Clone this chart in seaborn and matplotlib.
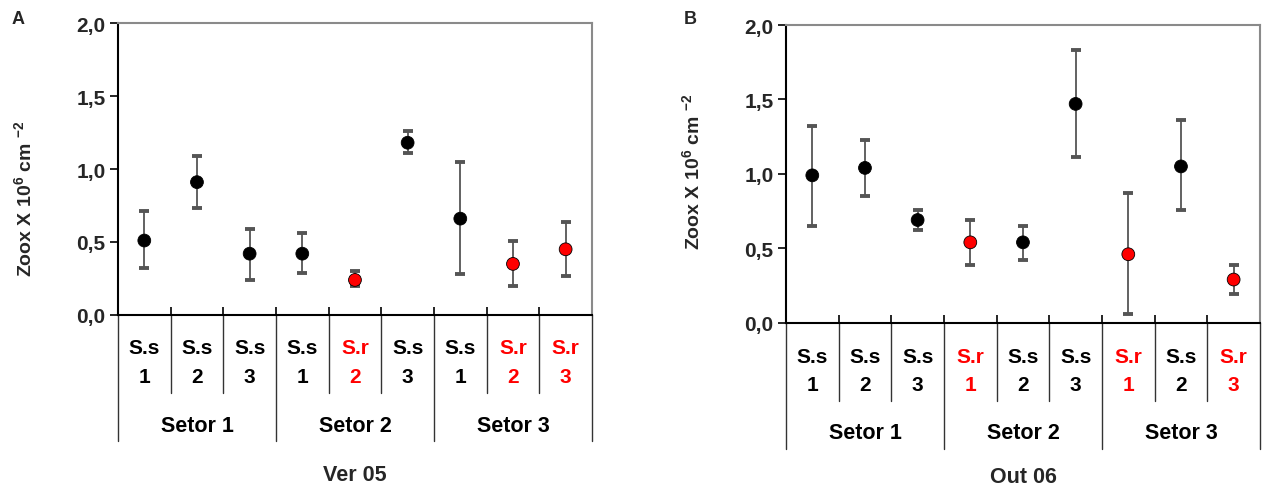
import matplotlib
matplotlib.use("Agg")
import matplotlib.pyplot as plt
import matplotlib.transforms as mtransforms
from matplotlib.ticker import FuncFormatter, FixedLocator
import seaborn as sns
import pandas as pd
import numpy as np

# ---------------- data ----------------
sectors = ["Setor 1", "Setor 2", "Setor 3"]

# Panel A (Ver 05)
a_species = ["S.s", "S.s", "S.s", "S.s", "S.r", "S.s", "S.s", "S.r", "S.r"]
a_site = ["1", "2", "3", "1", "2", "3", "1", "2", "3"]
a_mean = [0.51, 0.91, 0.42, 0.42, 0.24, 1.18, 0.66, 0.35, 0.45]
a_upper = [0.71, 1.09, 0.59, 0.56, 0.30, 1.26, 1.05, 0.51, 0.64]
a_lower = [0.32, 0.73, 0.24, 0.29, 0.20, 1.11, 0.28, 0.20, 0.27]
a_title = "Ver 05"

# Panel B (Out 06)
b_species = ["S.s", "S.s", "S.s", "S.r", "S.s", "S.s", "S.r", "S.s", "S.r"]
b_site = ["1", "2", "3", "1", "2", "3", "1", "2", "3"]
b_mean = [0.99, 1.04, 0.69, 0.54, 0.54, 1.47, 0.46, 1.05, 0.29]
b_upper = [1.32, 1.23, 0.76, 0.69, 0.65, 1.83, 0.87, 1.36, 0.39]
b_lower = [0.65, 0.85, 0.62, 0.39, 0.42, 1.11, 0.06, 0.76, 0.19]
b_title = "Out 06"

panel_letters = ["A", "B"]
yticks = [0.0, 0.5, 1.0, 1.5, 2.0]

# ---------------- style ----------------
sns.set_style("white")
plt.rcParams["font.family"] = ["Liberation Sans", "DejaVu Sans"]
plt.rcParams["font.weight"] = "bold"
plt.rcParams["mathtext.fontset"] = "custom"
plt.rcParams["mathtext.rm"] = "Liberation Sans:bold"
plt.rcParams["mathtext.bf"] = "Liberation Sans:bold"
plt.rcParams["mathtext.default"] = "bf"

RED = "#ff0000"
color_map = {"S.s": "black", "S.r": RED}

fig = plt.figure(figsize=(12.63, 4.89), dpi=100)

panels = [
    dict(rect=[0.0934, 0.3538, 0.3753, 0.5971], species=a_species, site=a_site,
         mean=a_mean, up=a_upper, lo=a_lower, title=a_title,
         y_sp=-0.110, y_site=-0.212, y_cat=-0.267, y_grp=-0.432, y_sec=-0.377, y_title=-0.545,
         letter_xy=(18 / 1263, 1 - 19 / 489), ylab_x=-0.175, ylab_y=0.40),
    dict(rect=[0.6223, 0.3380, 0.3753, 0.6088], species=b_species, site=b_site,
         mean=b_mean, up=b_upper, lo=b_lower, title=b_title,
         y_sp=-0.112, y_site=-0.209, y_cat=-0.263, y_grp=-0.424, y_sec=-0.370, y_title=-0.518,
         letter_xy=(690 / 1263, 1 - 20 / 489), ylab_x=-0.175, ylab_y=0.51),
]

for p, letter in zip(panels, panel_letters):
    ax = fig.add_axes(p["rect"])
    n = len(p["mean"])
    df = pd.DataFrame({
        "pos": np.arange(n),
        "mean": p["mean"],
        "up": p["up"],
        "lo": p["lo"],
        "species": p["species"],
    })
    yerr = np.vstack([df["mean"] - df["lo"], df["up"] - df["mean"]])
    _, caps, bars = ax.errorbar(df["pos"], df["mean"], yerr=yerr, fmt="none",
                                ecolor="#555555", elinewidth=1.3, capsize=3.6,
                                capthick=2.8, zorder=2)
    for c in caps:
        c.set_color("black")
    sns.scatterplot(data=df, x="pos", y="mean", hue="species", palette=color_map,
                    s=85, edgecolor="black", linewidth=0.6, legend=False,
                    zorder=3, ax=ax)

    ax.set_xlim(-0.5, n - 0.5)
    ax.set_ylim(0, 2.0)
    ax.set_yticks(yticks)
    ax.yaxis.set_major_formatter(FuncFormatter(lambda v, _: f"{v:.1f}".replace(".", ",")))
    ax.tick_params(axis="y", direction="out", length=6, width=1.2, labelsize=15,
                   left=True, pad=3, color="black")
    for t in ax.get_yticklabels():
        t.set_fontweight("bold")
    ax.xaxis.set_major_locator(FixedLocator(np.arange(n + 1) - 0.5))
    ax.tick_params(axis="x", direction="in", length=6, width=1.2, labelbottom=False,
                   bottom=True, color="black")
    ax.set_xlabel("")
    ax.set_ylabel("Zoox X 10$^{6}$ cm $^{-2}$", fontsize=14, fontweight="bold")
    ax.yaxis.set_label_coords(p["ylab_x"], p["ylab_y"])

    for side in ["left", "bottom"]:
        ax.spines[side].set_color("black")
        ax.spines[side].set_linewidth(1.5)
    for side in ["top", "right"]:
        ax.spines[side].set_color("#8a8a8a")
        ax.spines[side].set_linewidth(1.5)

    trans = mtransforms.blended_transform_factory(ax.transData, ax.transAxes)
    # category separators below the axis
    for i in range(n + 1):
        xb = i - 0.5
        bottom = p["y_grp"] if i % 3 == 0 else p["y_cat"]
        ax.plot([xb, xb], [0, bottom], transform=trans, color="#333333", lw=1.0,
                clip_on=False)
    # category labels
    for i, (sp, st) in enumerate(zip(p["species"], p["site"])):
        col = color_map[sp]
        ax.text(i, p["y_sp"], sp, transform=trans, ha="center", va="center",
                fontsize=15, fontweight="bold", color=col)
        ax.text(i, p["y_site"], st, transform=trans, ha="center", va="center",
                fontsize=15, fontweight="bold", color=col)
    # sector labels
    for k, sec in enumerate(sectors):
        ax.text(3 * k + 1, p["y_sec"], sec, transform=trans, ha="center", va="center",
                fontsize=15.5, fontweight="bold", color="black")
    ax.text(0.5, p["y_title"], p["title"], transform=ax.transAxes, ha="center",
            va="center", fontsize=15.5, fontweight="bold")

    fig.text(p["letter_xy"][0], p["letter_xy"][1], letter, fontsize=13,
             fontweight="bold", ha="center", va="center")

fig.savefig("out.png", dpi=100, facecolor="white")
